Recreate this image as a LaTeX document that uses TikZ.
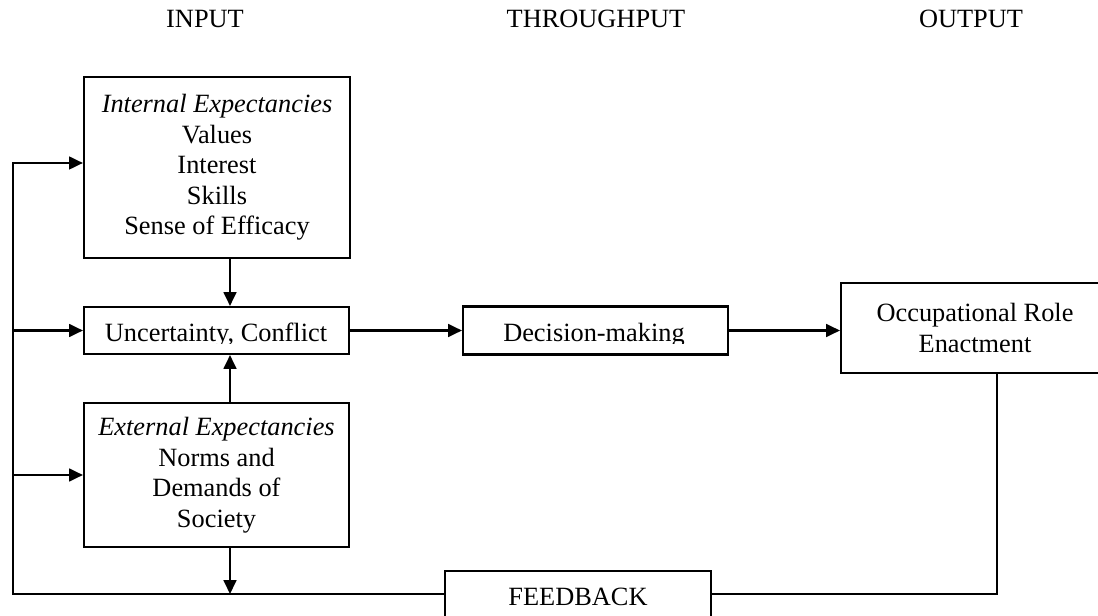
\documentclass[tikz,border=0pt]{standalone}
\usepackage{fontspec}
\setmainfont{Liberation Serif}
\usepackage{tikz}
\usetikzlibrary{arrows.meta}
\usetikzlibrary{calc}
\tikzstyle{box}=[draw, line width=1pt, inner sep=0pt, align=center, font=\fontsize{12.4}{14.4}\selectfont]
\tikzstyle{heading}=[inner sep=0pt, font=\fontsize{12.4}{14.4}\selectfont]
\tikzstyle{flow}=[line width=1pt, -{Triangle[length=6.5pt,width=6pt]}]
\tikzstyle{wire}=[line width=1pt]

\begin{document}
\begin{tikzpicture}[x=0.4706pt,y=-0.4706pt]
		\clip (0,0) rectangle (1098,616);
		% column headings
		\node[heading,anchor=base] (hin) at (205,28) {INPUT};
		\node[heading,anchor=base] (hthru) at (596,28) {THROUGHPUT};
		\node[heading,anchor=base] (hout) at (971,28) {OUTPUT};
		% boxes
		\node[box,minimum width=125.2pt,minimum height=85.2pt] (int) at (217,167.5) {\textit{Internal Expectancies}\\Values\\Interest\\Skills\\Sense of Efficacy};
		\node[box,minimum width=124.7pt,minimum height=22.1pt] (unc) at (216.5,330.5) {};
		\node[box,minimum width=124.7pt,minimum height=67.8pt] (ext) at (216.5,475) {\textit{External Expectancies}\\Norms and\\Demands of\\Society};
		\node[box,minimum width=124.7pt,minimum height=22.6pt] (dec) at (595.5,330.5) {};
		\node[box,minimum width=126.1pt,minimum height=42.4pt] (occ) at (975,328) {Occupational Role\\Enactment};
		\node[box,minimum width=125.2pt,minimum height=24pt] (fbk) at (578,596.5) {FEEDBACK};
		% one-line texts, cut at the foot
		\begin{scope}
			\clip (84,307) rectangle (728,344);
			\node[heading,anchor=base] (unctxt) at (216,342) {Uncertainty, Conflict};
			\node[heading,anchor=base] (dectxt) at (594,342) {Decision-making};
		\end{scope}
		% arrows
		\coordinate (bl) at (13,594);
		\coordinate (tl) at (13,163);
		\coordinate (br) at (997,594);
		\coordinate (ia) at ($(int.south)+(13,0)$);
		\coordinate (ea) at ($(ext.south)+(13.5,0)$);
		\draw[flow] (ia) -- (ia |- unc.north);
		\draw[flow] (ea |- ext.north) -- (ea |- unc.south);
		\draw[flow] (ea) -- (ea |- bl);
		\draw[flow] (unc.east) -- (dec.west);
		\draw[flow] (dec.east) -- (dec.east -| occ.west);
		% feedback loop
		\draw[wire] (occ.south -| br) -- (br) -- (br -| fbk.east);
		\draw[flow] (bl -| fbk.west) -- (bl) -- (tl) -- (tl -| int.west);
		\draw[flow] (bl |- unc.west) -- (unc.west);
		\draw[flow] (bl |- ext.west) -- (ext.west);
\end{tikzpicture}
\end{document}
